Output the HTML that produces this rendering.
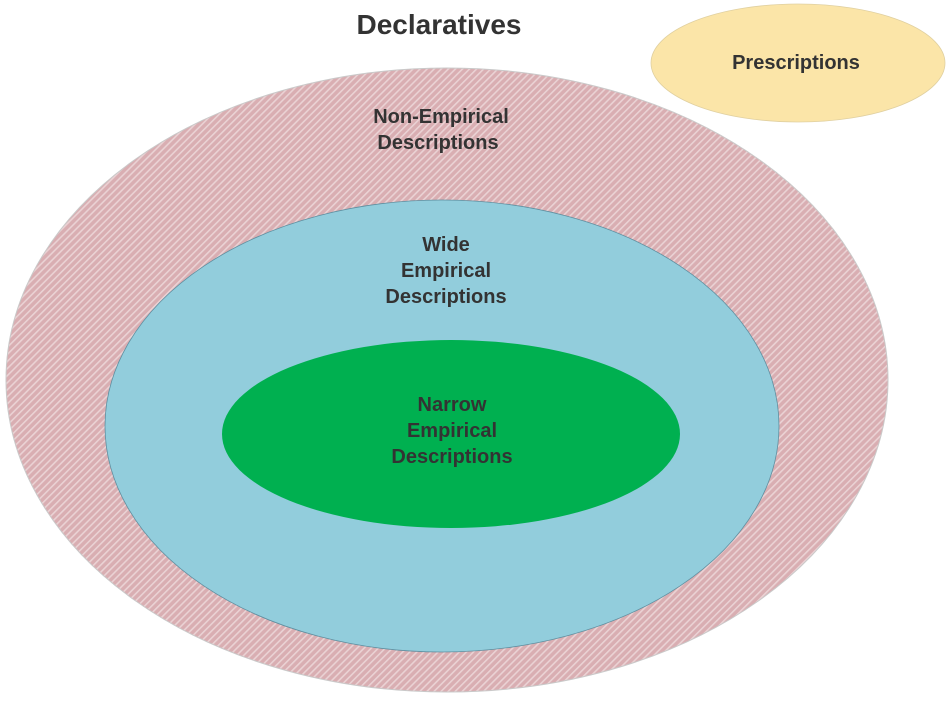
<!DOCTYPE html>
<html><head><style>body{margin:0;background:#fff}</style></head><body>
<svg width="948" height="697" xmlns="http://www.w3.org/2000/svg" font-family="Liberation Sans, Arial, sans-serif" font-weight="bold">
<defs>
<pattern id="h" width="5" height="5" patternUnits="userSpaceOnUse" patternTransform="rotate(-45)">
<rect width="5" height="5" fill="#d9aeb2"/>
<rect width="5" height="1.6" fill="#ead2d4"/>
</pattern>
</defs>
<rect width="948" height="697" fill="#fff"/>
<ellipse cx="447" cy="380" rx="441" ry="312" fill="url(#h)" stroke="#c9c9c9" stroke-width="1"/>
<ellipse cx="442" cy="426" rx="337" ry="226" fill="#92cddc" stroke="#5f8fa0" stroke-width="0.8"/>
<ellipse cx="451" cy="434" rx="229" ry="94" fill="#00b050"/>
<ellipse cx="798" cy="63" rx="147" ry="59" fill="#fbe5a8" stroke="#e0d0a0" stroke-width="0.8"/>
<g fill="#333" text-anchor="middle">
<text x="439" y="34" font-size="28">Declaratives</text>
<text x="796" y="69" font-size="20">Prescriptions</text>
<text x="441" y="123" font-size="20">Non-Empirical</text>
<text x="438" y="149" font-size="20">Descriptions</text>
<text x="446" y="251" font-size="20">Wide</text>
<text x="446" y="277" font-size="20">Empirical</text>
<text x="446" y="303" font-size="20">Descriptions</text>
<text x="452" y="411" font-size="20">Narrow</text>
<text x="452" y="437" font-size="20">Empirical</text>
<text x="452" y="463" font-size="20">Descriptions</text>
</g>
</svg>
</body></html>
